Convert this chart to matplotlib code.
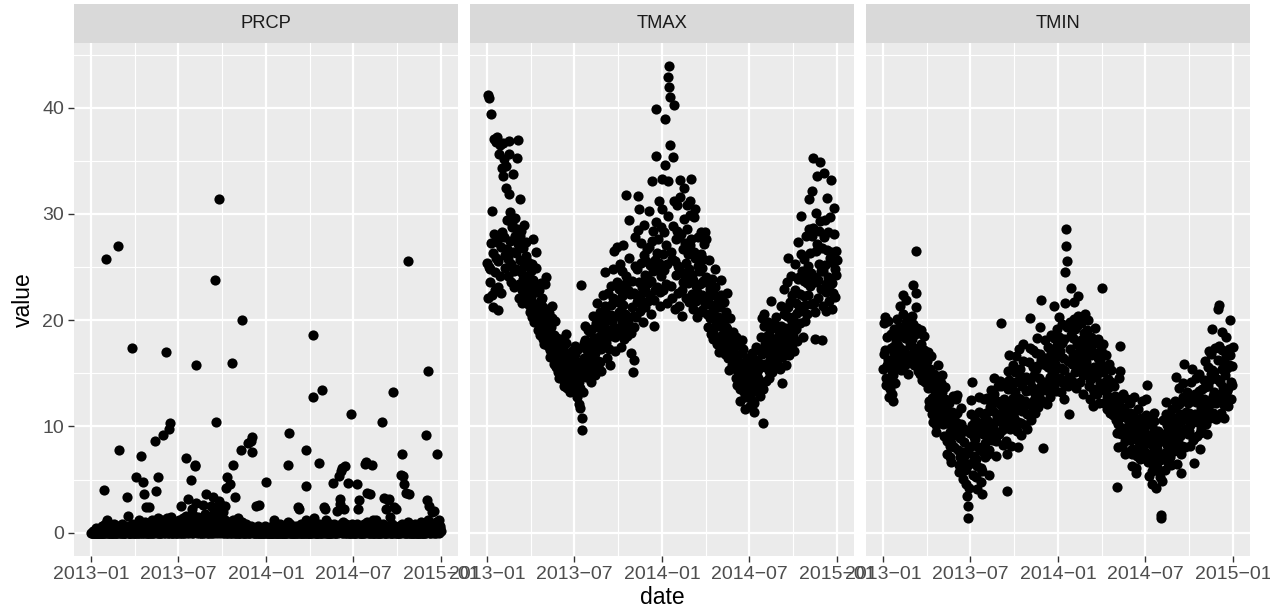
import numpy as np
import pandas as pd
import matplotlib
matplotlib.use("Agg")
import matplotlib.pyplot as plt
import matplotlib.dates as mdates

plt.rcParams['font.family'] = ['Liberation Sans', 'DejaVu Sans']

# ---------------- data (daily, month by month) ----------------
prcp_2013 = [
    [0, 0, 0, 0.2, 0, 0, 0, 0, 0, 0, 0.4, 0, 0, 0, 0, 0, 0, 0.2, 0, 0, 0, 0, 0, 0.6, 0, 0, 0, 4.0, 0.8, 0, 0],
    [25.8, 1.2, 0.4, 0, 0, 0, 0.2, 0, 0, 0.6, 0, 0, 0, 0.4, 0, 0, 0, 0.8, 0.2, 0, 0, 0, 0.5, 0, 0, 27.0, 7.8, 0.6],
    [0.2, 0, 0, 0, 0.8, 0.4, 0, 0, 0, 0.2, 0, 0, 0, 0.6, 0.2, 3.4, 0.4, 1.6, 0, 0, 0, 0.3, 0, 0, 0, 0.8, 17.4, 0.6, 0, 0, 0],
    [0, 0.4, 0, 0.8, 5.2, 0.6, 0, 0, 0.2, 0, 1.2, 0.4, 0, 7.2, 0.8, 0, 0, 4.8, 0.6, 0, 3.6, 1.0, 0, 0.2, 2.4, 0.6, 0, 0, 0.4, 0],
    [0, 2.4, 0.6, 0, 0, 0.8, 0, 1.2, 0.2, 0, 0, 0.4, 0.6, 8.6, 0.8, 3.9, 0, 0.4, 5.2, 1.4, 0, 0, 0.2, 0, 0.6, 0, 0, 1.2, 0.4, 9.2, 0.8],
    [0, 0.2, 0, 0.6, 0.8, 17.0, 1.4, 0.4, 0, 0, 0.2, 9.8, 10.3, 0.6, 0, 1.5, 0.8, 0, 0, 0.4, 0, 0.2, 1.0, 0.6, 0, 0, 0.4, 0, 0.8, 0.2],
    [0, 0.4, 1.2, 0.6, 0, 0, 2.5, 0.8, 0, 0.2, 0.6, 1.4, 0, 0, 0.4, 0.8, 7.0, 1.6, 0.4, 0, 0.6, 3.2, 1.0, 0, 0.2, 0.8, 1.2, 5.0, 2.2, 0.6, 0],
    [0.4, 0, 0.8, 1.6, 6.3, 6.4, 15.8, 2.8, 0.6, 0, 1.5, 0.4, 0, 0.2, 0.8, 1.2, 0, 0, 0.6, 0.4, 0, 2.6, 1.0, 0, 0.4, 0.8, 1.8, 3.6, 0.6, 0, 0.2],
    [0, 0.6, 0.2, 0, 0.8, 1.4, 0, 2.5, 0.6, 0, 3.4, 1.2, 0, 1.9, 0.4, 23.8, 2.2, 10.4, 1.0, 0, 0.6, 0.2, 1.4, 31.4, 3.0, 0.8, 0, 2.6, 1.6, 0.4],
    [0.8, 0, 1.9, 0.6, 0, 2.5, 1.2, 0, 4.2, 0.4, 0, 5.2, 1.0, 0, 0.2, 0.8, 0, 4.6, 0.6, 0, 0, 16.0, 6.4, 1.2, 0, 0.4, 0, 3.4, 0.8, 0, 0.2],
    [0, 1.4, 0, 0.4, 0, 0.2, 0, 0, 0.6, 7.8, 20.0, 1.0, 0, 0, 0.4, 0, 0.2, 0, 0.8, 0, 0, 0.4, 8.4, 0.6, 0, 0, 0.2, 0, 0.4, 8.6],
    [0.6, 9.0, 7.6, 0.4, 0, 0, 0.2, 0, 0, 2.5, 0.4, 0, 0, 0, 0.6, 0, 2.6, 0.2, 0, 0, 0, 0.4, 0, 0, 0, 0.2, 0, 0, 0.6, 0, 4.8],
]
prcp_2014 = [
    [0.4, 0, 0, 0, 0, 0.2, 0, 0, 0, 0, 0, 0.6, 0, 0, 0, 0, 0, 1.2, 0.4, 0, 0, 0, 0, 0, 0.2, 0, 0, 0, 0, 0.8, 0],
    [0, 0, 0.4, 0, 0, 0, 0, 0.2, 0, 0, 0, 0, 0.6, 0, 6.4, 1.0, 0, 9.4, 0.8, 0, 0, 0, 0.2, 0, 0, 0, 0.4, 0],
    [0, 0.2, 0, 0, 0.6, 0, 0, 0, 2.4, 0.4, 2.2, 0, 0, 0, 0.8, 0, 0, 0.2, 0, 0, 0.4, 0, 0, 4.4, 7.8, 1.2, 0, 0, 0.6, 0, 0],
    [0, 0, 0.4, 0, 0, 0.8, 0, 18.6, 12.8, 1.4, 0, 0.2, 0, 0, 0.6, 0, 0, 0, 0.4, 0, 6.6, 0.8, 0, 0, 0, 0.2, 0, 13.4, 0.6, 0],
    [2.4, 0.6, 2.2, 0, 1.2, 0, 0, 0.4, 0, 0, 0.2, 0, 0, 0.8, 0, 0, 0, 0.4, 0, 0.6, 4.7, 0.8, 0, 0, 0.2, 0, 0, 0.6, 2.0, 0.4, 0],
    [0.4, 5.3, 3.2, 2.7, 0.6, 5.8, 0.8, 0, 6.1, 1.0, 0, 2.2, 0.4, 0, 6.3, 0.8, 0, 0.2, 0, 4.7, 0.6, 0, 0, 0.4, 0, 0.2, 0, 11.2, 0.8, 0],
    [0, 0.2, 0, 0.6, 0, 0, 0.4, 0, 4.6, 0.8, 0, 2.2, 0.4, 3.1, 0, 0, 0.6, 0, 0.2, 0, 0, 0.4, 0, 0, 0.8, 6.5, 0, 0.6, 6.7, 1.0, 3.7],
    [0.6, 0, 0, 0.4, 0, 3.6, 0.8, 0, 0, 6.4, 1.2, 0, 0.2, 0, 0, 0.6, 0, 1.2, 0.4, 0, 0, 0, 0.2, 0, 0.8, 0, 0, 0.4, 0, 0.6, 10.4],
    [0.8, 0, 3.3, 0.4, 0, 0, 0.6, 2.2, 0, 0.2, 0, 3.1, 0.6, 0, 3.2, 0.4, 1.5, 0, 0, 0.8, 0, 0, 13.2, 0.6, 2.4, 0, 0.2, 0, 2.2, 0.4],
    [0, 0.4, 0, 0, 0.6, 0, 0, 0.2, 0, 5.4, 0.8, 7.4, 5.3, 0.4, 4.6, 0, 0, 0.6, 0, 3.7, 0.2, 0, 0, 25.6, 1.0, 3.6, 0.4, 0, 0, 0.2, 0],
    [0, 0.6, 0, 0, 0.2, 0, 0, 0.8, 0.4, 0, 0, 0, 0.6, 0, 0, 0.2, 0, 0, 0.4, 0, 1.0, 0.6, 0, 0, 0, 0.2, 0, 0.8, 0, 0],
    [9.2, 3.1, 0.6, 15.2, 1.2, 2.5, 0.4, 0, 0.8, 0, 0.2, 0.6, 1.9, 0.4, 0, 0.8, 2.0, 0.6, 0, 0.4, 1.0, 0, 0.2, 7.4, 0.6, 0.8, 0, 1.2, 0.4, 0.6, 0.2],
]
tmax_2013 = [
    [25.4, 22.1, 41.2, 40.9, 25.0, 23.6, 24.8, 27.3, 39.4, 30.3, 22.4, 21.2, 26.3, 28.1, 37.1, 24.5, 22.8, 25.9, 36.8, 37.2, 27.4, 23.1, 21.0, 25.6, 27.8, 35.6, 36.5, 24.2, 22.6, 26.9, 34.3],
    [28.3, 33.6, 36.7, 35.2, 27.8, 24.9, 26.1, 34.5, 32.4, 29.4, 26.7, 24.2, 25.8, 31.9, 36.9, 35.6, 30.2, 27.5, 23.6, 25.3, 28.8, 29.1, 33.8, 26.4, 23.1, 24.6, 27.9, 29.6],
    [26.3, 24.8, 28.6, 35.3, 37.0, 27.2, 23.4, 22.1, 25.7, 27.9, 31.4, 28.4, 24.5, 22.8, 21.6, 23.9, 26.8, 29.0, 25.1, 22.4, 24.2, 27.4, 26.0, 23.3, 21.8, 22.9, 25.5, 24.0, 21.4, 20.8, 23.1],
    [24.6, 22.2, 20.3, 21.7, 25.3, 27.6, 23.8, 21.5, 19.8, 20.9, 22.7, 24.9, 26.4, 23.2, 20.6, 19.1, 21.3, 22.8, 20.1, 18.6, 19.7, 21.9, 23.5, 22.1, 19.4, 18.2, 20.5, 21.2, 19.0, 17.8],
    [19.6, 23.4, 24.1, 21.0, 19.2, 18.4, 17.6, 19.8, 20.7, 18.9, 17.2, 16.5, 18.1, 19.4, 21.3, 20.2, 17.9, 16.8, 15.9, 17.4, 18.6, 19.9, 17.1, 15.6, 16.2, 17.8, 18.3, 16.4, 15.1, 14.6, 16.9],
    [17.3, 16.2, 15.4, 14.8, 16.9, 18.2, 17.5, 15.9, 14.3, 13.8, 15.2, 16.6, 17.9, 18.7, 16.1, 14.9, 13.6, 14.4, 15.7, 16.8, 15.3, 14.1, 13.2, 14.7, 16.3, 17.1, 15.6, 14.5, 15.9, 16.4],
    [15.2, 16.8, 17.6, 14.9, 13.5, 12.8, 14.6, 16.1, 17.3, 15.8, 14.2, 12.1, 11.7, 13.6, 23.3, 15.4, 9.7, 10.8, 13.2, 14.8, 16.4, 17.9, 19.5, 18.1, 16.2, 14.7, 15.9, 17.2, 19.1, 16.6, 15.3],
    [16.4, 17.8, 18.9, 15.6, 14.2, 16.3, 17.5, 19.2, 20.4, 18.1, 16.7, 15.3, 14.8, 16.9, 18.3, 19.7, 21.6, 17.4, 15.8, 16.2, 17.9, 19.4, 20.8, 18.5, 16.1, 15.2, 17.3, 18.8, 20.1, 22.4, 19.3],
    [18.2, 19.6, 21.3, 24.5, 20.7, 17.9, 16.4, 18.8, 20.2, 22.6, 19.1, 17.3, 15.8, 18.5, 21.4, 23.2, 20.5, 18.6, 19.9, 22.1, 24.8, 26.5, 21.7, 18.4, 17.1, 19.3, 21.8, 23.6, 26.9, 20.4],
    [19.2, 20.8, 22.9, 25.3, 21.6, 18.7, 17.5, 19.8, 22.3, 24.6, 27.1, 21.4, 19.0, 18.2, 20.6, 23.4, 31.8, 24.2, 20.1, 18.5, 19.7, 22.8, 25.9, 29.4, 22.5, 19.3, 16.9, 18.8, 21.2, 23.7, 20.4],
    [15.1, 16.3, 19.4, 22.6, 25.1, 27.8, 22.4, 20.3, 21.7, 24.8, 28.5, 31.7, 30.5, 23.6, 20.9, 22.2, 25.4, 27.3, 23.1, 21.5, 19.8, 22.7, 26.1, 29.0, 24.3, 21.2, 22.8, 25.6, 23.9, 26.7],
    [24.1, 21.8, 23.5, 26.9, 30.3, 25.2, 22.4, 20.6, 23.7, 27.5, 33.1, 28.4, 24.6, 21.9, 19.5, 22.8, 25.7, 29.2, 35.5, 39.9, 26.3, 23.1, 24.8, 27.6, 31.2, 25.4, 22.7, 21.3, 24.2, 28.8, 33.3],
]
tmax_2014 = [
    [30.5, 26.2, 22.8, 24.7, 28.3, 34.6, 38.9, 27.1, 23.4, 21.6, 25.3, 29.8, 33.1, 42.9, 43.9, 42.0, 41.0, 36.5, 26.4, 23.2, 22.1, 25.8, 28.9, 35.4, 40.3, 31.2, 25.6, 21.1, 24.3, 27.6, 30.8],
    [28.4, 25.1, 22.6, 21.3, 24.9, 27.8, 31.6, 33.2, 28.1, 24.5, 22.8, 20.4, 23.6, 26.7, 29.5, 32.4, 27.3, 24.2, 22.1, 25.4, 28.6, 30.8, 26.2, 23.5, 21.7, 24.8, 27.1, 29.9],
    [31.2, 33.3, 27.6, 24.3, 22.5, 21.1, 23.8, 26.4, 29.7, 30.5, 25.9, 23.2, 21.8, 20.3, 22.7, 25.1, 27.8, 24.6, 22.1, 20.8, 23.4, 26.2, 28.3, 24.9, 22.4, 21.0, 23.7, 25.8, 27.2, 23.6, 21.5],
    [28.3, 27.6, 24.1, 22.3, 20.6, 19.4, 21.8, 23.5, 25.7, 22.9, 20.2, 18.7, 21.4, 23.9, 22.6, 20.8, 19.1, 18.2, 20.5, 22.4, 24.8, 23.1, 21.2, 19.6, 17.8, 19.9, 21.7, 20.3, 18.4, 17.0],
    [19.5, 21.2, 23.8, 22.4, 20.1, 18.6, 17.3, 19.9, 21.7, 20.3, 18.2, 16.8, 17.9, 19.4, 20.8, 22.6, 19.2, 17.5, 16.4, 15.3, 17.2, 18.8, 20.2, 18.1, 16.6, 15.8, 17.4, 18.9, 17.7, 16.2, 15.5],
    [16.8, 17.6, 18.4, 15.9, 14.6, 13.9, 15.3, 16.7, 17.8, 16.1, 14.8, 13.5, 12.4, 14.2, 15.6, 16.9, 18.1, 17.3, 15.4, 14.1, 13.2, 11.6, 12.8, 14.7, 16.2, 15.8, 14.3, 13.6, 15.1, 16.4],
    [15.7, 14.3, 13.1, 11.9, 12.6, 14.4, 15.8, 16.9, 15.2, 13.7, 12.2, 11.4, 13.3, 14.9, 16.3, 17.5, 15.1, 13.8, 14.6, 16.1, 17.2, 15.5, 14.0, 12.9, 14.1, 15.6, 18.4, 20.2, 16.8, 10.3, 13.5],
    [19.5, 20.6, 17.8, 15.9, 14.3, 15.6, 17.1, 18.5, 19.8, 16.9, 15.2, 14.6, 16.3, 17.7, 19.1, 21.8, 18.3, 16.4, 15.1, 16.7, 18.2, 19.6, 17.4, 15.8, 16.5, 18.1, 20.3, 17.6, 16.0, 17.9, 19.2],
    [18.6, 16.8, 15.4, 17.2, 19.5, 21.3, 18.9, 16.5, 14.1, 16.9, 18.7, 20.6, 22.9, 19.3, 17.4, 15.8, 18.1, 20.4, 23.6, 25.9, 21.2, 18.3, 16.7, 19.1, 21.7, 24.2, 20.1, 17.8, 19.6, 22.4],
    [20.3, 18.6, 17.1, 19.4, 22.8, 25.3, 21.6, 19.2, 18.0, 20.7, 23.9, 27.4, 24.1, 21.3, 19.7, 22.5, 26.2, 29.8, 24.6, 21.2, 18.4, 20.9, 23.7, 25.8, 22.3, 19.9, 21.4, 24.3, 27.9, 23.5, 20.6],
    [22.4, 25.1, 28.6, 31.4, 26.3, 23.2, 21.5, 24.4, 27.9, 32.2, 35.3, 28.7, 24.1, 21.6, 18.2, 20.8, 23.6, 26.5, 30.1, 33.6, 27.2, 23.8, 22.1, 25.3, 28.4, 34.9, 29.3, 24.6, 22.9, 26.8],
    [18.1, 21.3, 24.6, 27.8, 33.9, 29.4, 25.2, 22.7, 20.9, 23.4, 26.6, 31.5, 28.3, 24.1, 21.8, 23.2, 25.9, 29.7, 33.2, 26.4, 23.5, 21.1, 22.6, 25.4, 28.1, 30.6, 24.8, 22.2, 24.3, 26.5, 25.7],
]
tmin_2013 = [
    [15.4, 16.8, 19.7, 20.3, 17.2, 14.6, 13.9, 15.8, 18.4, 19.9, 16.3, 14.2, 12.8, 13.5, 16.1, 18.7, 17.4, 15.2, 13.1, 12.4, 14.8, 17.6, 19.2, 16.9, 15.5, 14.1, 16.4, 18.1, 20.1, 17.8, 15.9],
    [16.2, 17.5, 19.4, 21.3, 18.8, 16.6, 15.3, 17.1, 18.9, 20.6, 22.4, 19.5, 17.2, 15.8, 16.9, 18.3, 19.8, 21.9, 18.4, 16.1, 14.9, 16.7, 18.6, 20.2, 17.9, 16.3, 17.7, 19.1],
    [18.2, 20.4, 23.3, 19.6, 17.1, 15.8, 16.9, 18.7, 21.2, 22.6, 26.5, 19.3, 16.4, 15.2, 17.4, 18.8, 16.6, 14.9, 15.7, 17.8, 19.1, 16.2, 14.4, 15.3, 16.8, 18.5, 17.2, 15.1, 14.2, 16.4, 15.6],
    [14.8, 16.2, 17.0, 15.3, 13.6, 12.4, 11.8, 13.9, 15.4, 16.6, 14.2, 12.7, 11.2, 10.4, 12.1, 13.8, 14.9, 13.2, 11.6, 10.1, 9.5, 11.3, 12.8, 14.4, 15.8, 13.5, 11.9, 10.7, 12.3, 13.6],
    [12.4, 14.1, 14.8, 13.2, 11.5, 10.2, 9.1, 10.8, 12.6, 13.7, 11.9, 10.3, 8.6, 7.4, 8.9, 10.6, 12.2, 11.1, 9.5, 8.2, 7.1, 6.7, 8.4, 9.9, 11.4, 12.9, 10.7, 9.2, 8.1, 9.6, 11.2],
    [10.4, 12.6, 13.0, 11.3, 9.2, 7.8, 6.4, 5.7, 7.1, 8.9, 10.2, 11.7, 9.5, 7.6, 6.2, 5.1, 6.8, 8.5, 9.8, 7.3, 5.9, 4.6, 6.0, 7.7, 3.5, 2.5, 1.4, 4.2, 6.5, 8.1],
    [9.4, 11.2, 12.5, 14.2, 10.1, 8.3, 6.7, 5.4, 7.2, 9.0, 10.6, 8.8, 6.9, 5.2, 4.1, 6.3, 8.1, 9.7, 11.4, 12.8, 10.3, 7.9, 6.1, 4.8, 3.6, 5.8, 7.6, 9.3, 11.1, 12.6, 9.9],
    [8.4, 7.1, 9.5, 11.3, 12.7, 10.6, 8.9, 7.4, 5.4, 7.8, 9.6, 11.8, 13.4, 12.1, 10.2, 8.7, 9.9, 11.5, 13.1, 14.6, 12.3, 10.4, 8.6, 7.2, 9.1, 10.9, 12.4, 13.8, 11.2, 9.3, 10.7],
    [12.1, 14.3, 19.7, 13.8, 11.4, 9.7, 8.3, 10.2, 12.6, 14.1, 11.8, 9.9, 8.6, 10.5, 3.9, 7.4, 11.3, 13.5, 15.2, 16.7, 14.4, 11.6, 9.8, 8.2, 10.1, 12.3, 13.9, 15.8, 12.7, 10.8],
    [11.4, 13.2, 15.1, 16.6, 14.2, 11.8, 9.6, 8.1, 10.4, 12.7, 14.9, 17.3, 15.4, 12.6, 10.3, 9.2, 11.5, 13.8, 16.2, 17.8, 14.6, 11.9, 10.1, 12.4, 14.7, 13.3, 11.2, 9.8, 12.1, 14.5, 13.4],
    [16.1, 20.2, 17.4, 14.3, 12.2, 10.6, 11.9, 13.7, 15.6, 17.2, 14.8, 12.5, 11.3, 13.1, 15.4, 16.9, 18.3, 15.7, 13.2, 11.8, 12.9, 14.6, 16.8, 19.4, 21.9, 16.3, 13.8, 12.4, 14.1, 15.9],
    [8.0, 12.3, 14.2, 16.4, 18.1, 15.8, 13.4, 12.1, 13.9, 15.6, 17.5, 16.2, 14.3, 12.8, 14.7, 16.9, 18.6, 17.1, 15.2, 13.6, 14.8, 16.5, 21.3, 18.3, 15.9, 14.1, 13.3, 15.4, 17.7, 19.2, 16.6],
]
tmin_2014 = [
    [16.8, 18.4, 20.3, 17.1, 14.6, 13.2, 15.5, 17.9, 19.6, 16.4, 14.1, 12.6, 15.3, 18.2, 21.6, 24.5, 27.0, 28.6, 25.6, 19.4, 16.2, 13.8, 11.2, 14.7, 17.3, 19.8, 23.0, 18.6, 15.9, 14.3, 16.7],
    [18.3, 20.1, 21.7, 19.2, 16.8, 15.1, 13.6, 15.9, 17.8, 19.5, 22.3, 20.4, 17.6, 15.4, 14.2, 16.3, 18.1, 19.7, 17.2, 15.6, 13.1, 14.8, 16.9, 18.8, 20.6, 18.2, 16.1, 17.4],
    [15.8, 17.3, 19.1, 20.0, 17.6, 15.2, 13.8, 12.6, 14.4, 16.7, 18.4, 17.1, 15.3, 13.5, 11.9, 13.2, 15.6, 17.9, 19.3, 16.8, 14.7, 13.1, 14.9, 16.4, 18.2, 15.7, 13.4, 12.2, 14.1, 16.3, 17.2],
    [15.4, 16.9, 23.0, 17.8, 15.1, 13.4, 12.2, 13.8, 15.6, 16.7, 14.3, 12.8, 11.6, 12.9, 14.5, 15.9, 13.7, 12.1, 11.3, 12.6, 14.2, 15.3, 13.9, 12.4, 11.1, 12.7, 13.8, 12.2, 11.5, 12.9],
    [11.8, 10.6, 9.4, 4.3, 8.1, 10.2, 12.4, 14.6, 17.6, 15.2, 12.8, 10.9, 9.3, 8.2, 9.8, 11.5, 13.1, 11.7, 9.9, 8.6, 7.4, 9.2, 11.0, 12.6, 10.8, 8.9, 7.6, 9.1, 10.5, 12.2, 11.3],
    [10.2, 8.7, 7.4, 6.3, 7.9, 9.6, 11.2, 12.8, 10.9, 9.1, 7.5, 6.1, 5.6, 7.2, 8.8, 10.4, 11.6, 9.8, 8.2, 6.9, 7.7, 9.3, 10.8, 12.4, 10.1, 8.4, 7.0, 8.6, 9.9, 8.3],
    [7.6, 9.4, 11.1, 12.6, 13.9, 10.8, 8.5, 6.7, 5.3, 6.9, 8.6, 10.2, 9.1, 7.4, 5.8, 4.6, 6.4, 8.2, 9.7, 11.3, 10.5, 8.8, 7.1, 5.9, 4.2, 6.2, 7.9, 9.6, 8.4, 7.2, 8.9],
    [6.8, 5.2, 1.7, 1.4, 4.9, 7.3, 9.1, 10.6, 8.7, 7.2, 5.9, 7.5, 9.4, 11.2, 12.3, 10.1, 8.3, 6.6, 7.8, 9.5, 10.9, 8.8, 7.1, 6.4, 8.2, 9.9, 11.6, 10.3, 8.6, 7.7, 9.2],
    [10.8, 12.4, 14.7, 11.9, 9.6, 7.8, 6.5, 8.4, 10.3, 12.1, 13.6, 11.2, 9.1, 7.4, 5.6, 8.2, 10.6, 12.8, 14.1, 15.9, 12.5, 9.8, 8.1, 9.7, 11.4, 13.2, 10.9, 9.3, 10.6, 12.2],
    [11.3, 9.6, 8.2, 10.1, 12.4, 14.2, 15.4, 12.8, 10.5, 8.7, 6.6, 8.9, 11.2, 13.1, 14.6, 12.3, 10.4, 9.1, 10.8, 12.7, 14.9, 13.3, 11.1, 9.4, 7.9, 9.8, 11.7, 13.5, 12.2, 10.6, 11.8],
    [12.6, 14.4, 16.2, 13.7, 11.5, 10.2, 9.3, 11.4, 13.8, 15.6, 17.1, 14.3, 12.1, 10.8, 12.5, 14.9, 16.8, 19.2, 15.3, 12.9, 11.3, 13.2, 15.1, 17.4, 14.6, 12.2, 10.7, 12.8, 14.5, 16.3],
    [21.1, 21.4, 17.6, 14.2, 12.5, 11.3, 13.1, 15.4, 17.2, 18.9, 16.1, 13.7, 12.0, 10.8, 12.9, 14.8, 16.6, 18.4, 15.5, 13.3, 11.9, 13.6, 15.8, 17.3, 20.0, 16.7, 14.2, 12.6, 13.9, 15.7, 17.5],
]

panel_names = ["PRCP", "TMAX", "TMIN"]
major_breaks = ["2013-01-01", "2013-07-01", "2014-01-01", "2014-07-01", "2015-01-01"]
major_labels = ["2013\u221201", "2013\u221207", "2014\u221201", "2014\u221207", "2015\u221201"]
y_breaks = [0, 10, 20, 30, 40]
y_minor = [5, 15, 25, 35, 45]


def flat(months):
    return [v for m in months for v in m]


dates = pd.date_range("2013-01-01", "2014-12-31", freq="D")
series = {
    "PRCP": flat(prcp_2013) + flat(prcp_2014),
    "TMAX": flat(tmax_2013) + flat(tmax_2014),
    "TMIN": flat(tmin_2013) + flat(tmin_2014),
}
for k, v in series.items():
    assert len(v) == len(dates), (k, len(v))

# ---------------- layout (pixels) ----------------
W, H = 1270, 615
fig = plt.figure(figsize=(W / 100, H / 100), dpi=100)
fig.patch.set_facecolor("white")
lefts = [74, 470, 866]
pw = 384
p_top, p_bot, s_top = 43, 556, 4

xd = mdates.date2num(dates.to_pydatetime())
x0, x1 = xd.min(), xd.max()
pad = (x1 - x0) * 0.05
ally = np.concatenate([np.asarray(v, float) for v in series.values()])
ylo, yhi = ally.min(), ally.max()
ypad = (yhi - ylo) * 0.05

maj = mdates.date2num([pd.Timestamp(t).to_pydatetime() for t in major_breaks])
minr = (maj[:-1] + maj[1:]) / 2.0

for i, name in enumerate(panel_names):
    ax = fig.add_axes([lefts[i] / W, 1 - p_bot / H, pw / W, (p_bot - p_top) / H])
    ax.set_facecolor("#EBEBEB")
    ax.scatter(xd, series[name], s=54, c="black", linewidths=0, zorder=3)
    ax.set_xlim(x0 - pad, x1 + pad)
    ax.set_ylim(ylo - ypad, yhi + ypad)
    ax.set_xticks(maj)
    ax.set_xticklabels(major_labels)
    ax.set_xticks(minr, minor=True)
    ax.set_yticks(y_breaks)
    ax.set_yticks(y_minor, minor=True)
    ax.set_axisbelow(True)
    ax.grid(True, which="major", color="white", linewidth=1.6)
    ax.grid(True, which="minor", color="white", linewidth=0.8)
    for sp in ax.spines.values():
        sp.set_visible(False)
    ax.tick_params(which="major", length=4.1, width=1.0, color="#333333",
                   labelcolor="#4D4D4D", labelsize=14, pad=3.0)
    ax.tick_params(which="minor", length=0)
    if i > 0:
        ax.tick_params(axis="y", which="both", length=0, labelleft=False)
    # strip
    sax = fig.add_axes([lefts[i] / W, 1 - p_top / H, pw / W, (p_top - s_top) / H])
    sax.set_facecolor("#D9D9D9")
    sax.set_xticks([])
    sax.set_yticks([])
    for sp in sax.spines.values():
        sp.set_visible(False)
    sax.text(0.5, 0.5, name, ha="center", va="center", fontsize=13.2,
             color="#1A1A1A", transform=sax.transAxes)

fig.text((lefts[0] + lefts[2] + pw) / 2 / W, 1 - 597 / H, "date",
         ha="center", va="center", fontsize=16.5, color="black")
fig.text(23 / W, 1 - ((p_top + p_bot) / 2) / H, "value", rotation=90,
         ha="center", va="center", fontsize=16.5, color="black")

fig.savefig("out.png", dpi=100)
